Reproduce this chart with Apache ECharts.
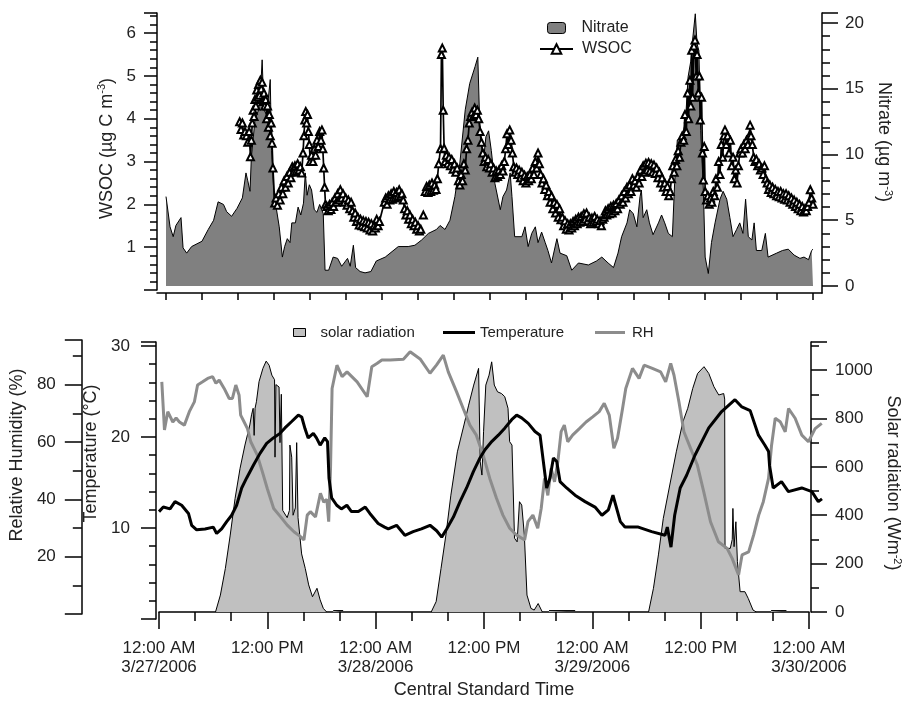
<!DOCTYPE html>
<html>
<head>
<meta charset="utf-8">
<script src="https://cdn.jsdelivr.net/npm/echarts@6/dist/echarts.min.js"></script>
<style>
  html, body { margin: 0; padding: 0; background: #fff; }
  #chart { width: 911px; height: 701px; }
</style>
</head>
<body>
<div id="chart"></div>
<script>
// x values are hours since 12:00 AM 3/27/2006 (Central Standard Time)
var xTickLabels = ['12:00 AM\n3/27/2006', '12:00 PM', '12:00 AM\n3/28/2006', '12:00 PM',
                   '12:00 AM\n3/29/2006', '12:00 PM', '12:00 AM\n3/30/2006'];

// nitrate, ug m-3
var nitrateHours = [0,0.45,0.8,1.1,1.67,1.9,2.3,2.85,4.0,4.7,5.3,5.8,6.4,6.75,7.3,7.9,8.5,8.9,9.1,9.35,
  9.5,9.9,10.3,10.5,10.7,10.9,11.2,11.6,11.75,12.05,12.3,12.6,12.95,13.2,13.5,13.8,14.0,14.4,14.7,15.0,
  15.3,15.5,15.7,15.95,16.2,16.5,16.8,17.1,17.5,17.7,18.1,18.6,19.1,19.55,20.2,20.5,20.85,21.1,21.6,22.15,
  22.8,23.4,24.4,25.85,26.95,27.7,28.45,29.2,30.1,30.5,31.05,31.6,32.15,32.7,33.3,33.8,34.4,34.7,34.9,35.3,
  35.6,35.9,36.2,36.6,37.2,37.5,37.9,38.3,38.5,38.8,39.6,39.95,40.3,40.7,41.1,41.4,41.8,42.2,42.5,42.9,
  43.5,43.85,44.6,45.15,45.9,47.0,47.9,48.5,49.2,49.8,50.3,50.7,51.3,51.6,52.0,52.4,52.75,52.9,53.1,53.5,
  53.8,54.2,54.8,55.15,55.5,55.9,56.35,56.6,56.9,57.4,57.8,58.1,58.4,58.6,58.9,59.1,59.3,59.5,59.8,60.0,
  60.35,60.7,61.1,61.65,62.0,62.4,62.75,63.1,63.5,63.85,64.2,64.5,64.8,65.2,65.45,65.7,66.3,66.7,67.0,67.96,
  68.6,69.25,69.9,70.55,71.0,71.5,71.85,72];
var nitrateValues = [6.8,4.5,3.75,4.6,5.2,2.9,2.5,3.0,3.4,4.3,5.0,6.4,6.2,5.65,5.3,5.9,6.7,8.6,8.0,7.2,
  9.8,12.6,13.4,14.5,17.2,13.4,13.0,15.7,10.3,6.3,5.8,4.5,2.2,3.0,3.6,3.3,4.8,4.8,6.0,5.4,
  6.3,8.6,6.9,7.7,7.3,5.8,5.6,6.2,5.5,1.2,1.2,2.2,2.1,1.5,2.1,1.5,3.1,1.4,1.1,1.0,
  1.1,1.9,2.2,3.0,3.0,3.1,3.5,4.0,4.3,4.6,4.3,5.0,6.8,9.35,13.4,15.4,16.7,17.4,12.6,9.35,
  11.35,11.8,10.3,7.8,5.8,6.8,7.3,8.6,6.8,3.75,3.75,4.5,3.0,4.0,4.5,3.3,4.1,3.3,2.7,1.75,
  3.6,2.5,2.3,1.2,1.75,1.6,1.9,2.2,1.75,1.4,2.5,3.75,4.8,5.8,5.5,4.5,6.8,7.3,5.2,5.8,
  4.8,3.9,4.8,5.4,4.8,4.0,3.75,7.8,11.1,11.35,12.4,15.9,17.1,18.7,20.7,18.4,17.9,11.8,7.3,2.2,
  0.95,3.3,4.8,6.6,7.2,6.6,5.2,3.75,4.3,4.8,4.0,6.6,3.75,3.5,4.8,2.7,2.7,4.0,2.2,2.5,
  2.7,2.8,2.35,2.1,2.2,2.0,2.7,2.8];

// WSOC, ug C m-3, as [hour, value]; null = no data
var wsocPoints = [
  [8.2,3.93],[8.35,3.75],[8.5,3.9],[8.65,3.62],[8.8,3.7],[8.95,3.6],[9.1,3.45],[9.25,3.7],[9.4,3.11],[9.5,3.5],
  [9.6,3.9],[9.7,4.2],[9.8,4.05],[9.9,4.45],[10.0,4.3],[10.1,4.67],[10.2,4.5],[10.3,4.8],[10.4,4.55],[10.5,4.9],
  [10.6,4.7],[10.7,4.85],[10.8,4.4],[10.9,4.6],[11.0,4.3],[11.1,4.45],[11.2,4.0],[11.3,4.3],[11.4,3.8],[11.5,4.1],
  [11.6,3.6],[11.7,3.9],[11.8,3.43],[11.9,2.85],
  [12.1,2.03],[12.25,2.15],[12.4,1.98],[12.55,2.25],[12.7,2.1],[12.85,2.4],[13.0,2.25],[13.15,2.55],[13.3,2.4],[13.45,2.65],
  [13.6,2.5],[13.75,2.75],[13.9,2.62],[14.05,2.88],[14.2,2.75],[14.35,2.9],[14.5,2.78],[14.65,2.95],[14.8,2.8],[14.95,2.88],
  [15.1,2.73],[15.25,3.2],[15.35,3.6],[15.45,3.97],[15.55,4.17],[15.65,3.9],[15.75,4.1],[15.85,3.7],[15.95,3.4],[16.05,3.0],
  [16.2,3.15],[16.35,3.0],[16.5,3.3],[16.65,3.15],[16.8,3.5],[16.95,3.35],[17.1,3.7],[17.25,3.5],[17.35,3.74],[17.45,3.3],
  [17.55,2.85],[17.65,2.4],[17.75,2.0],
  [17.9,1.95],[18.05,1.85],[18.2,2.0],[18.35,1.88],[18.5,2.05],[18.65,1.95],[18.8,2.15],[18.95,2.05],[19.1,2.25],[19.25,2.1],
  [19.4,2.34],[19.55,2.15],[19.7,2.25],[19.85,2.05],[20.0,2.15],[20.15,1.98],[20.3,2.1],[20.45,1.9],[20.6,2.05],
  [20.75,1.85],[20.9,1.7],[21.05,1.8],[21.2,1.6],[21.35,1.7],[21.5,1.52],[21.65,1.65],[21.8,1.5],[21.95,1.62],[22.1,1.48],
  [22.25,1.6],[22.4,1.45],[22.55,1.58],[22.7,1.4],[22.85,1.55],[23.0,1.38],[23.15,1.5],[23.3,1.45],[23.45,1.65],[23.6,1.5],
  [23.75,1.6],
  [24.3,2.05],[24.45,2.15],[24.6,2.0],[24.75,2.2],[24.9,2.1],[25.05,2.25],[25.2,2.12],[25.35,2.3],[25.5,2.15],[25.65,2.28],
  [25.8,2.18],[25.95,2.34],[26.1,2.2],[26.25,2.25],[26.4,2.1],[26.55,1.9],[26.7,1.75],[26.85,1.85],[27.0,1.65],[27.15,1.75],
  [27.3,1.55],[27.45,1.65],[27.6,1.5],[27.75,1.58],[27.9,1.42],[28.05,1.5],[28.2,1.38],[28.35,1.42],[28.5,null],[28.64,1.75],
  [28.75,null],
  [28.85,2.3],[29.0,2.42],[29.15,2.28],[29.3,2.45],[29.45,2.3],[29.6,2.5],[29.75,2.33],[29.9,2.45],[30.05,2.35],[30.2,2.6],
  [30.35,2.95],[30.55,3.3],[30.65,5.5],[30.75,5.65],[30.85,4.2],[30.95,3.31],
  [31.05,3.0],[31.2,3.15],[31.35,2.95],[31.5,3.1],[31.65,2.9],[31.8,3.05],[31.95,2.82],[32.1,2.95],[32.25,2.75],[32.4,2.85],
  [32.55,2.55],[32.7,2.45],[32.85,2.7],[33.0,2.55],[33.15,2.95],[33.3,2.8],[33.45,3.3],[33.6,3.5],[33.75,3.9],[33.9,4.05],
  [34.05,4.15],[34.2,4.05],[34.35,4.25],[34.5,4.1],[34.65,4.2],[34.8,4.0],[34.95,3.7],[35.1,3.45],[35.25,3.2],[35.4,3.0],
  [35.55,3.1],[35.7,2.88],[35.85,3.05],[36.0,2.85],[36.15,2.95],[36.3,2.75],[36.45,2.85],[36.6,2.62],[36.75,2.78],[36.9,2.65],
  [37.05,2.8],[37.2,2.7],[37.35,2.9],[37.5,2.78],[37.65,3.0],
  [37.8,3.3],[37.95,3.65],[38.1,3.4],[38.25,3.74],[38.4,3.5],[38.55,3.2],[38.7,2.88],[38.85,2.75],[39.0,2.85],[39.15,2.7],
  [39.3,2.8],[39.45,2.62],[39.6,2.75],[39.75,2.55],[39.9,2.68],[40.05,2.5],[40.2,2.65],[40.35,2.55],[40.5,2.7],[40.65,2.6],
  [40.8,2.85],[40.95,2.7],[41.1,3.0],[41.25,2.85],[41.4,3.2],[41.55,2.95],[41.7,2.7],[41.85,2.5],[42.0,2.6],[42.15,2.35],
  [42.3,2.45],[42.45,2.2],[42.6,2.3],[42.75,2.05],[42.9,2.2],[43.05,1.9],[43.2,2.05],[43.35,1.8],[43.5,2.0],[43.65,1.7],
  [43.8,1.9],[43.95,1.64],[44.1,1.7],[44.25,1.5],[44.4,1.62],[44.55,1.42],[44.7,1.55],[44.85,1.4],[45.0,1.55],[45.15,1.45],
  [45.3,1.6],[45.45,1.5],[45.6,1.65],[45.75,1.55],[45.9,1.7],[46.05,1.58],[46.2,1.72],[46.35,1.6],[46.5,1.78],[46.65,1.65],
  [46.8,1.8],[46.95,1.62],[47.1,1.7],[47.25,1.55],[47.4,1.68],[47.55,1.58],[47.7,1.72],[47.85,1.6],[48.0,1.65],[48.15,1.55],
  [48.3,1.62],[48.45,1.5],[48.6,1.65],[48.75,1.7],[48.9,1.85],[49.05,1.75],[49.2,1.9],[49.35,1.78],[49.5,1.95],[49.65,1.8],
  [49.8,1.98],[49.95,1.85],[50.1,2.02],[50.25,1.9],[50.4,2.1],[50.55,2.0],[50.7,2.2],[50.85,2.05],[51.0,2.3],[51.15,2.15],
  [51.3,2.4],[51.45,2.25],[51.6,2.45],[51.75,2.3],[51.9,2.6],[52.05,2.45],[52.2,2.55],[52.35,2.4],[52.5,2.65],[52.65,2.5],
  [52.8,2.8],[52.95,2.65],[53.1,2.9],[53.25,2.75],[53.4,2.96],[53.55,2.8],[53.7,2.98],[53.85,2.78],[54.0,2.95],[54.15,2.75],
  [54.3,2.92],[54.45,2.72],[54.6,2.85],[54.75,2.62],[54.9,2.75],[55.05,2.5],[55.2,2.62],[55.35,2.4],[55.5,2.5],[55.65,2.3],
  [55.8,2.42],[55.95,2.2],[56.1,2.3],[56.25,2.6],[56.4,2.9],[56.55,2.75],[56.7,3.05],[56.85,2.9],[57.0,3.25],[57.15,3.1],
  [57.3,3.45],[57.45,3.6],[57.6,3.5],[57.75,4.1],[57.9,3.7],[58.05,4.6],[58.15,4.0],[58.3,4.9],[58.4,4.3],[58.5,5.6],
  [58.6,4.5],[58.75,5.7],[58.87,5.84],[59.0,5.0],[59.1,5.5],[59.24,4.6],[59.35,5.0],[59.45,3.97],[59.6,4.5],[59.7,3.2],
  [59.8,2.57],[59.9,3.35],[60.0,2.3],[60.15,2.1],[60.3,2.2],[60.45,2.0],[60.6,2.15],[60.75,2.05],[60.9,2.3],[61.05,2.2],
  [61.2,2.6],[61.35,2.4],[61.5,3.0],[61.65,2.7],[61.8,3.4],[61.95,3.1],[62.1,3.6],[62.2,3.74],[62.35,3.4],[62.5,3.6],
  [62.65,3.2],[62.8,3.5],[62.95,2.9],[63.1,3.1],[63.25,2.6],[63.4,2.8],[63.55,2.5],[63.7,2.9],[63.85,3.2],[64.0,3.3],
  [64.15,3.2],[64.3,3.4],[64.45,3.3],[64.6,3.5],[64.75,3.4],[64.9,3.6],[65.0,3.85],[65.1,3.6],[65.25,3.4],[65.4,3.1],
  [65.55,3.0],[65.7,3.05],[65.85,2.9],[66.0,2.95],[66.15,2.8],[66.3,2.85],[66.45,2.7],[66.6,2.9],[66.75,2.6],[66.9,2.5],
  [67.05,2.35],[67.2,2.45],[67.35,2.28],[67.5,2.4],[67.65,2.25],[67.8,2.35],[67.95,2.2],[68.1,2.3],[68.25,2.18],[68.4,2.3],
  [68.55,2.15],[68.7,2.25],[68.85,2.12],[69.0,2.25],[69.15,2.1],[69.3,2.2],[69.45,2.05],[69.6,2.15],[69.75,2.0],[69.9,2.1],
  [70.05,1.95],[70.2,2.05],[70.35,1.9],[70.5,2.0],[70.65,1.85],[70.8,1.95],[70.95,1.82],[71.1,1.9],[71.25,1.85],[71.4,1.95],
  [71.55,2.05],[71.7,2.34],[71.85,2.15],[72.0,2.0]
];

// solar radiation, W m-2 (null = no data at night)
var solarHours = [6.26,6.8,7.35,7.89,8.43,8.98,9.52,10.06,10.25,10.43,10.54,10.64,10.79,11.08,11.51,11.87,12.2,12.5,12.8,12.85,
  12.95,13.3,13.4,13.55,13.7,14.2,14.45,14.5,14.7,14.85,15.1,15.25,15.4,15.8,16.2,16.58,17.0,17.5,17.85,18.2,
  18.57,18.9,19.3,20.4,20.8,
  30.15,30.7,31.24,31.78,32.33,33.05,33.78,34.3,34.86,35.4,35.58,35.77,35.95,36.2,36.56,36.85,37.14,37.5,37.94,38.3,
  38.66,38.84,39.1,39.38,39.67,39.93,40.18,40.47,40.76,41.2,41.56,42.0,42.46,42.8,43.2,46.1,46.5,
  54.23,54.77,55.32,55.86,56.58,57.3,58.03,58.57,59.12,59.66,60.37,60.9,61.47,62.0,62.55,62.66,62.7,63.28,63.5,63.57,
  63.7,63.9,64.07,64.37,64.9,65.27,65.8,66.17,66.8,67.8,69.5,70.0];
var solarValues = [0,70,180,318,470,594,690,773,815,842,730,842,869,952,1007,1037,1020,979,960,640,
  940,930,700,900,420,390,420,690,640,400,430,700,390,240,180,112,63,98,50,15,
  0,null,6,6,null,
  0,43,180,318,483,662,773,855,938,1007,621,566,745,938,979,1034,938,910,903,890,
  842,704,690,305,290,456,442,318,70,15,8,35,0,null,6,6,null,
  0,98,236,387,525,662,786,842,924,986,1014,986,931,897,903,880,263,263,300,428,
  270,373,208,84,84,56,8,0,null,6,6,null];

// air temperature, deg C
var tempHours = [0,0.47,1.2,1.74,2.46,3.2,3.55,4.09,5.0,5.9,6.26,6.8,7.35,7.89,8.43,8.98,9.52,10.25,10.97,11.69,
  12.42,13.14,13.68,14.41,15.13,15.5,15.86,16.2,16.76,17.1,17.5,18.0,18.3,18.46,18.75,19.3,19.8,20.4,20.9,21.65,
  22.4,22.9,23.8,24.5,24.9,25.8,26.7,27.6,28.5,29.43,30.15,30.7,31.24,31.97,32.69,33.4,34.14,34.86,35.4,36.13,
  36.85,37.57,38.3,38.84,39.38,40.1,40.83,41.38,41.74,42.1,42.46,42.83,43.19,43.55,44.27,45.18,46.27,47.35,48.1,48.8,
  49.3,50.1,50.6,52.05,53.5,54.95,55.2,55.6,56.0,56.6,57.3,58.2,59.7,61.1,62.55,63.3,64.2,65.1,65.8,66.2,
  66.3,66.7,67.6,68.35,69.8,70.9,71.6,72];
var tempValues = [11.8,12.3,12.1,12.9,12.5,11.6,10.3,9.8,9.9,10.1,9.4,9.9,10.7,11.4,12.5,14.4,15.5,16.9,18.2,19.3,
  19.9,20.4,21.0,21.7,22.4,22.2,20.9,19.9,20.4,19.9,19.1,19.9,19.5,15.5,13.3,12.5,12.1,12.5,11.8,11.8,
  12.3,11.6,10.5,10.1,9.9,10.3,9.2,9.6,9.9,10.3,9.7,9.0,9.9,11.2,12.9,14.4,16.2,17.7,18.6,19.5,
  20.2,21.0,21.9,22.4,22.1,21.5,20.6,20.2,17.3,14.4,15.5,17.7,17.3,15.1,14.4,13.6,12.9,12.3,11.4,12.0,
  13.6,10.7,10.1,10.1,9.6,9.2,10.1,7.9,11.4,14.4,15.8,18.0,21.0,22.8,24.1,23.3,22.9,20.2,19.1,18.4,
  16.9,14.4,15.1,14.0,14.4,14.0,12.9,13.2];

// relative humidity, %
var rhHours = [0,0.29,0.65,1.2,1.56,1.92,2.46,3.0,3.55,3.9,4.45,5.0,5.54,5.9,6.26,6.8,7.35,7.7,8.07,8.43,
  8.6,8.98,9.34,9.7,10.4,10.97,11.5,12.2,12.96,13.68,14.41,15.13,15.5,15.86,16.2,16.76,17.3,17.66,18.0,18.2,
  18.4,18.57,19.1,19.66,20.2,21.3,22.4,22.9,23.46,24.0,24.9,26.35,27.08,28.17,29.25,29.97,30.7,31.24,32.15,32.87,
  33.6,34.3,35.04,35.77,36.5,37.2,37.94,38.66,39.57,39.93,40.47,41.0,41.38,41.74,42.1,42.46,42.83,43.19,43.55,43.9,
  44.27,44.8,45.54,46.27,46.99,47.7,48.25,48.8,49.3,49.7,50.25,50.6,51.33,52.05,52.6,53.5,54.4,54.95,55.5,55.86,
  56.4,56.94,57.67,58.4,59.1,59.84,60.7,61.65,62.2,62.9,63.28,64.0,64.55,65.1,65.6,66.17,66.5,66.9,67.44,67.99,
  68.35,69.07,69.8,70.52,71.25,71.97];
var rhValues = [81,64.2,70.6,67,68.4,67,65.9,70.6,74,79.9,81,82.2,82.8,80.5,81.6,78.7,75.2,75.2,79.9,76.3,
  69.4,67,64.7,60.1,55.5,49.6,43.8,36.8,33.9,31,28.7,27,25.8,34.5,35.7,33.9,42.1,39,40,32.2,
  50.8,78.7,86.8,82.8,84.5,81,75.8,86.3,87.4,88.6,88.6,88.9,91.5,89,84,86.9,90.3,84.5,77.5,71.7,
  65.9,62.4,55.5,47.3,40.4,34.5,29.9,27.6,25.8,32.2,34.5,29.9,36.9,47.3,41.4,50.8,46.1,53.1,63.6,65.9,
  60.1,62.4,64.7,67,68.8,70.6,73.5,69.4,57.8,61.3,71.7,78.7,85.7,82.2,86.8,85.7,84.5,81,87.4,83.3,
  74,63.6,57.8,52,42.7,32.2,25.2,22.9,19.4,13.6,20.6,21.7,27.6,34.5,39.2,47.3,58.9,68.3,67.1,63.6,
  71.7,68.3,62.4,60.1,64.7,66.5];

function pairs(hours, values) {
  return hours.map(function (h, i) {
    return [h, values[i] === null ? '-' : values[i]];
  });
}

var FONT = 'Liberation Sans';
var TXT = '#222';

function tickFmt(step, keepZero) {
  return function (v) {
    if (v === 0 && !keepZero) return '';
    var k = v / step;
    return Math.abs(k - Math.round(k)) < 1e-6 ? String(v) : '';
  };
}

var line = function (w) { return { show: true, onZero: false, lineStyle: { color: '#000', width: w || 1.5 } }; };
var tick = function (len) { return { show: true, length: len, lineStyle: { color: '#000', width: 1.5 } }; };
var minor = function (n, len) { return { show: true, splitNumber: n, length: len, lineStyle: { color: '#000', width: 1.5 } }; };
var hiddenX = function (grid) {
  return { type: 'value', gridIndex: grid, min: 0, max: 72, show: false, axisLine: { onZero: false } };
};
var nameStyle = function (pad) {
  return { fontSize: 18, color: TXT, fontFamily: FONT, padding: pad,
    rich: { sup: { fontSize: 11, color: TXT, fontFamily: FONT, padding: [0, 0, 9, 0] } } };
};
var labelStyle = function (margin, fmt) {
  return { margin: margin, fontSize: 17, color: TXT, fontFamily: FONT, formatter: fmt };
};

var myChart = echarts.init(document.getElementById('chart'), null, { renderer: 'canvas' });

var option = {
  animation: false,
  backgroundColor: '#fff',
  textStyle: { fontFamily: FONT, color: TXT },
  grid: [
    { left: 166, right: 98, top: 13, bottom: 411 },  // WSOC
    { left: 166, right: 98, top: 13, bottom: 415 },  // nitrate
    { left: 157, right: 89, top: 13, bottom: 408 },  // top frame
    { left: 159, right: 89, top: 342, bottom: 89 },  // solar
    { left: 159, right: 89, top: 342, bottom: 82 },  // temperature
    { left: 159, right: 89, top: 340, bottom: 87 }   // RH
  ],
  legend: [
    { data: [{ name: 'Nitrate', icon: 'roundRect', itemStyle: { color: '#808080', borderColor: '#000', borderWidth: 1 } }],
      left: 547, top: 20, padding: 0, itemWidth: 18, itemHeight: 11, selectedMode: false,
      textStyle: { fontSize: 16, color: TXT, fontFamily: FONT, padding: [0, 0, 0, 11] } },
    { data: ['WSOC'], left: 539, top: 41, padding: 0, itemWidth: 33, itemHeight: 12, selectedMode: false,
      textStyle: { fontSize: 16, color: TXT, fontFamily: FONT, padding: [0, 0, 0, 4] } },
    { data: [{ name: 'solar radiation', icon: 'rect', itemStyle: { color: '#c0c0c0', borderColor: '#000', borderWidth: 1 } }],
      left: 293, top: 325, padding: 0, itemWidth: 12, itemHeight: 8, selectedMode: false,
      textStyle: { fontSize: 15, color: TXT, fontFamily: FONT, padding: [0, 0, 0, 10] } },
    { data: [{ name: 'Temperature', icon: 'rect', itemStyle: { color: '#000' } }],
      left: 443, top: 325, padding: 0, itemWidth: 32, itemHeight: 3, selectedMode: false,
      textStyle: { fontSize: 15, color: TXT, fontFamily: FONT } },
    { data: [{ name: 'RH', icon: 'rect', itemStyle: { color: '#8c8c8c' } }],
      left: 595, top: 325, padding: 0, itemWidth: 30, itemHeight: 3, selectedMode: false,
      textStyle: { fontSize: 15, color: TXT, fontFamily: FONT, padding: [0, 0, 0, 2] } }
  ],
  xAxis: [
    hiddenX(0),
    { type: 'value', gridIndex: 1, min: 0, max: 72, interval: 4, offset: 7,
      axisLine: { show: false, onZero: false }, axisTick: tick(7),
      axisLabel: { show: false }, splitLine: { show: false } },
    { type: 'value', gridIndex: 2, min: 0, max: 1, axisLine: line(),
      axisTick: { show: false }, axisLabel: { show: false }, splitLine: { show: false } },
    { type: 'value', gridIndex: 3, min: 0, max: 72, interval: 12,
      name: 'Central Standard Time', nameLocation: 'middle', nameGap: 69,
      nameTextStyle: { fontSize: 18, color: TXT, fontFamily: FONT },
      axisLine: line(), axisTick: tick(17), minorTick: minor(3, 9),
      axisLabel: { margin: 27, fontSize: 17, lineHeight: 19, color: TXT, fontFamily: FONT,
        formatter: function (v) { return xTickLabels[Math.round(v / 12)] || ''; } },
      splitLine: { show: false } },
    hiddenX(4),
    hiddenX(5)
  ],
  yAxis: [
    { type: 'value', gridIndex: 0, position: 'left', offset: 9, min: 0, max: 6.47, interval: 1,
      name: 'WSOC (\u00b5g C m{sup|-3})', nameLocation: 'middle', nameGap: 33, nameRotate: 90,
      nameTextStyle: nameStyle([0, 0, 0, 6]),
      axisLine: line(), axisTick: tick(13), minorTick: minor(5, 7),
      axisLabel: labelStyle(21, tickFmt(1, false)), splitLine: { show: false } },
    { type: 'value', gridIndex: 1, position: 'right', offset: 9, min: 0, max: 20.76, interval: 5,
      name: 'Nitrate (\u00b5g m{sup|-3})', nameLocation: 'middle', nameGap: 45, nameRotate: -90,
      nameTextStyle: nameStyle([0, 15, 0, 0]),
      axisLine: { show: false, onZero: false }, axisTick: tick(16), minorTick: minor(5, 8),
      axisLabel: labelStyle(23, tickFmt(5, true)), splitLine: { show: false } },
    { type: 'value', gridIndex: 2, position: 'right', min: 0, max: 1, axisLine: line(),
      axisTick: { show: false }, axisLabel: { show: false }, splitLine: { show: false } },
    { type: 'value', gridIndex: 3, position: 'right', offset: 2, min: 0, max: 1116, interval: 200,
      name: 'Solar radiation (Wm{sup|-2})', nameLocation: 'middle', nameGap: 72, nameRotate: -90,
      nameTextStyle: nameStyle([0, 0, 0, 12]),
      axisLine: line(), axisTick: tick(16), minorTick: minor(2, 8),
      axisLabel: labelStyle(24, tickFmt(200, true)), splitLine: { show: false } },
    { type: 'value', gridIndex: 4, position: 'left', offset: 3, min: 0, max: 30.44, interval: 10,
      name: 'Temperature (\u00b0C)', nameLocation: 'middle', nameGap: 45, nameRotate: 90,
      nameTextStyle: nameStyle([0, 0, 0, 54]),
      axisLine: line(), axisTick: tick(15), minorTick: minor(5, 7),
      axisLabel: labelStyle(26, tickFmt(10, false)), splitLine: { show: false } },
    { type: 'value', gridIndex: 5, position: 'left', offset: 80, min: 0, max: 95.6, interval: 20,
      name: 'Relative Humidity (%)', nameLocation: 'middle', nameGap: 43, nameRotate: 90,
      nameTextStyle: nameStyle([0, 0, 0, 44]),
      axisLine: line(), axisTick: tick(17), minorTick: minor(2, 9),
      axisLabel: labelStyle(26, tickFmt(20, false)), splitLine: { show: false } }
  ],
  series: [
    { name: 'Nitrate', type: 'line', xAxisIndex: 1, yAxisIndex: 1, z: 1,
      data: pairs(nitrateHours, nitrateValues), symbol: 'none', color: '#808080',
      lineStyle: { color: '#000', width: 1 },
      areaStyle: { color: '#808080', opacity: 1 } },
    { name: 'WSOC', type: 'line', xAxisIndex: 0, yAxisIndex: 0, z: 3,
      data: wsocPoints.map(function (p) { return [p[0], p[1] === null ? '-' : p[1]]; }),
      connectNulls: false,
      symbol: 'emptyTriangle', symbolSize: 7, showAllSymbol: true, color: '#000',
      itemStyle: { color: '#000', borderWidth: 1.7 },
      lineStyle: { color: '#000', width: 1.7 } },
    { name: 'solar radiation', type: 'line', xAxisIndex: 3, yAxisIndex: 3, z: 2,
      data: pairs(solarHours, solarValues), symbol: 'none', connectNulls: false, color: '#c0c0c0',
      lineStyle: { color: '#000', width: 1 },
      areaStyle: { color: '#c0c0c0', opacity: 1 } },
    { name: 'RH', type: 'line', xAxisIndex: 5, yAxisIndex: 5, z: 3,
      data: pairs(rhHours, rhValues), symbol: 'none', color: '#8c8c8c',
      lineStyle: { color: '#8c8c8c', width: 3 } },
    { name: 'Temperature', type: 'line', xAxisIndex: 4, yAxisIndex: 4, z: 4,
      data: pairs(tempHours, tempValues), symbol: 'none', color: '#000',
      lineStyle: { color: '#000', width: 3 } }
  ]
};
myChart.setOption(option);
</script>
</body>
</html>
